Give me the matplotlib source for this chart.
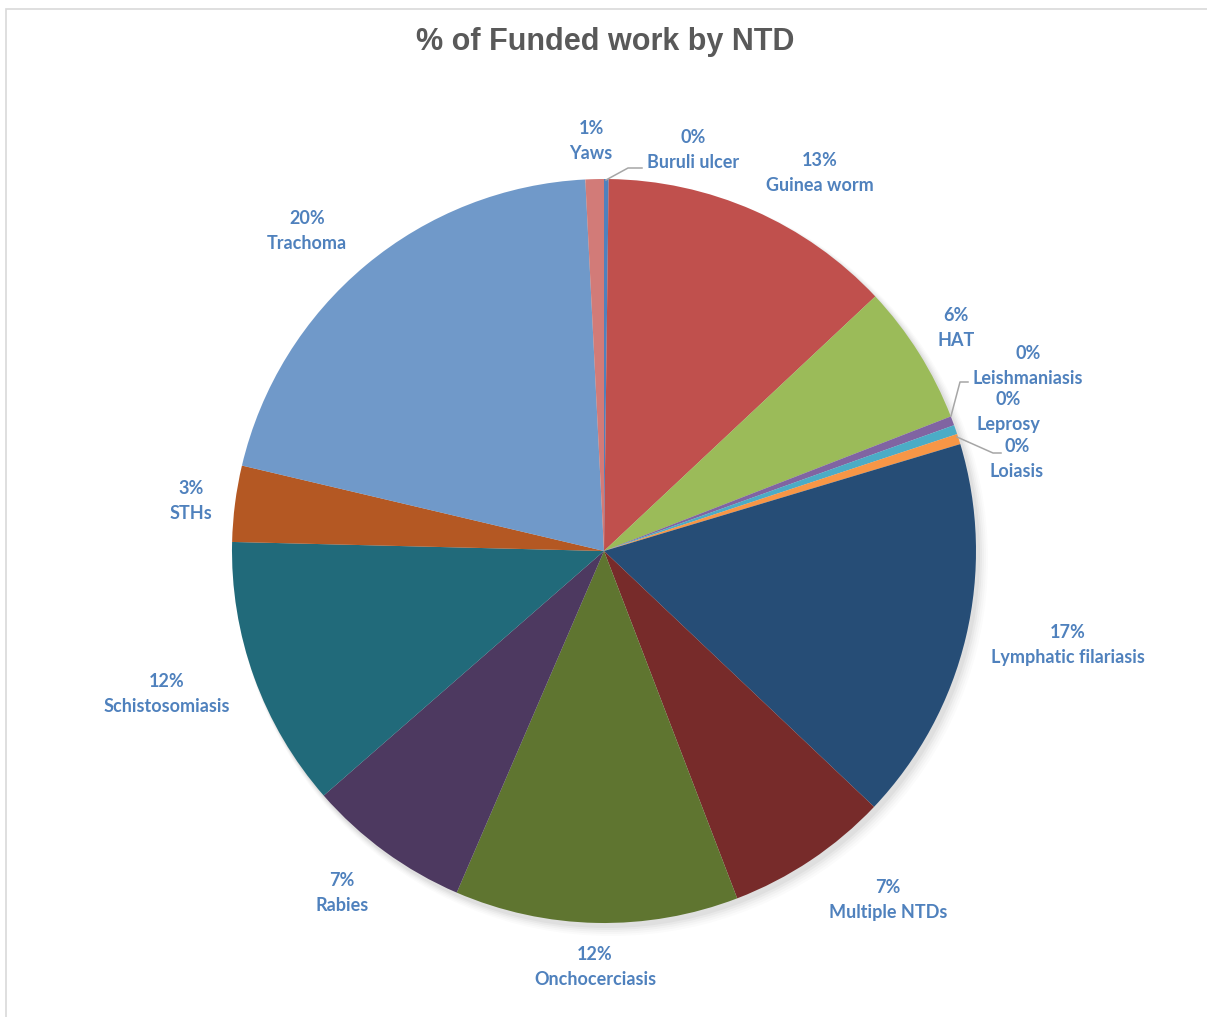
import matplotlib
matplotlib.use("Agg")
import matplotlib.pyplot as plt
from matplotlib.patches import Rectangle, Circle

categories = ["Buruli ulcer", "Guinea worm", "HAT", "Leishmaniasis", "Leprosy", "Loiasis",
              "Lymphatic filariasis", "Multiple NTDs", "Onchocerciasis", "Rabies",
              "Schistosomiasis", "STHs", "Trachoma", "Yaws"]
values = [0.2, 12.8, 6.1, 0.4, 0.4, 0.45, 16.7, 7.1, 12.3, 7.1, 11.8, 3.3, 20.5, 0.8]
pct_labels = ["0%", "13%", "6%", "0%", "0%", "0%", "17%", "7%", "12%", "7%", "12%", "3%", "20%", "1%"]
colors = ["#4F81BD", "#C0504D", "#9BBB59", "#8064A2", "#4BACC6", "#F79646",
          "#264D76", "#772B2A", "#5F7530", "#4D3960", "#216A7A", "#B45823", "#7099C9", "#D27B78"]

W, H = 1207, 1017
fig = plt.figure(figsize=(W / 100, H / 100), dpi=100)
ax = fig.add_axes([0, 0, 1, 1])

cx, cy, r = 604, H - 551, 372

# soft shadow
for i, a in enumerate([0.035, 0.03, 0.025, 0.02, 0.015]):
    ax.add_patch(Circle((cx + 3 + i, cy - 4 - i), r + 1 + i, color="black", alpha=a, lw=0, zorder=0))

ax.pie(values, colors=colors, startangle=90, counterclock=False, center=(cx, cy), radius=r,
       wedgeprops=dict(linewidth=0, zorder=1), frame=False)
ax.set_xlim(0, W)
ax.set_ylim(0, H)
ax.set_aspect("equal")
ax.axis("off")

# border
ax.add_patch(Rectangle((6, -10), W + 20, H - 9 + 10, fill=False, edgecolor="#D9D9D9", lw=1.2, zorder=0))

label_pos = {
    "Buruli ulcer": (693, 150), "Guinea worm": (820, 173), "HAT": (956, 328),
    "Leishmaniasis": (1028, 366), "Leprosy": (1008, 412), "Loiasis": (1017, 459),
    "Lymphatic filariasis": (1068, 645), "Multiple NTDs": (888, 900),
    "Onchocerciasis": (595, 967), "Rabies": (342, 893), "Schistosomiasis": (167, 694),
    "STHs": (191, 501), "Trachoma": (307, 231), "Yaws": (591, 141),
}
for cat, pct in zip(categories, pct_labels):
    x, y = label_pos[cat]
    ax.text(x, H - y, f"{pct}\n{cat}", ha="center", va="center", fontsize=13,
            family=["Lato", "DejaVu Sans"], fontweight="bold", color="#4F81BD",
            linespacing=1.6, zorder=5)

# leader lines
lc = "#A6A6A6"
leaders = [
    [(606, 180), (628, 168), (642, 168)],
    [(951, 416), (960, 382), (968, 382)],
    [(957, 437), (993, 453), (1001, 453)],
]
for pts in leaders:
    ax.plot([p[0] for p in pts], [H - p[1] for p in pts], color=lc, lw=1.1, zorder=4)

ax.text(W / 2 + 2, H - 42, "% of Funded work by NTD", ha="center", va="center", fontsize=22,
        family=["Liberation Sans", "DejaVu Sans"], fontweight="bold", color="#595959")

fig.savefig("out.png", dpi=100, facecolor="white")
